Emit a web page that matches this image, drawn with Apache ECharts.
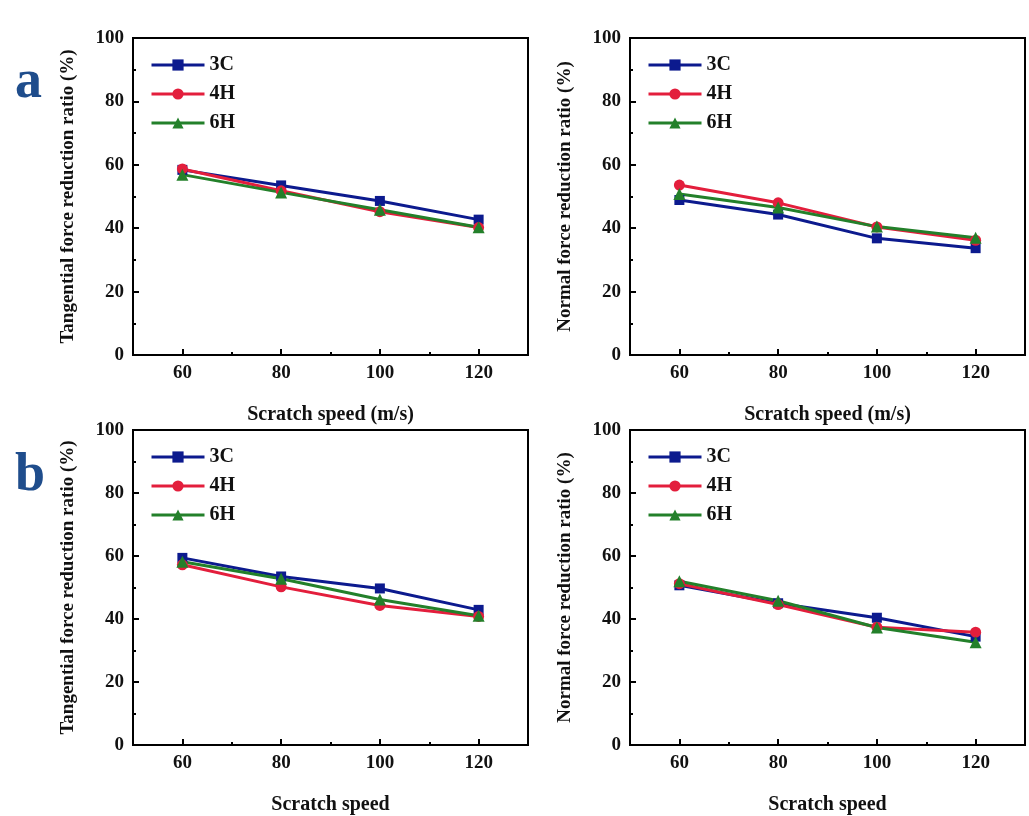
<!DOCTYPE html>
<html>
<head>
<meta charset="utf-8">
<script src="https://cdn.jsdelivr.net/npm/echarts@6/dist/echarts.min.js"></script>
<style>
  html, body { margin: 0; padding: 0; background: #fff; }
  #chart { width: 1029px; height: 816px; }
</style>
</head>
<body>
<div id="chart"></div>
<script>
// Scratch speeds (m/s) on the x axis
const speeds = [60, 80, 100, 120];
const xTickLabels = [60, 80, 100, 120];
const xMinorTicks = [70, 90, 110];
const seriesNames = ['3C', '4H', '6H'];

// (a) force reduction ratio (%)
const aTangential3C = [58.4, 53.5, 48.6, 42.7];
const aTangential4H = [58.7, 51.8, 45.2, 40.2];
const aTangential6H = [56.9, 51.3, 45.8, 40.3];
const aNormal3C = [48.9, 44.3, 36.8, 33.7];
const aNormal4H = [53.6, 48.0, 40.4, 36.2];
const aNormal6H = [50.8, 46.5, 40.5, 37.0];

// (b) force reduction ratio (%)
const bTangential3C = [59.4, 53.5, 49.7, 42.9];
const bTangential4H = [57.2, 50.2, 44.3, 40.8];
const bTangential6H = [58.2, 52.8, 46.2, 41.0];
const bNormal3C = [50.7, 45.0, 40.4, 34.4];
const bNormal4H = [51.2, 44.6, 37.4, 35.8];
const bNormal6H = [52.0, 45.8, 37.3, 32.6];

const FONT = "'Liberation Serif', 'Times New Roman', serif";
const colors = ['#0c1a8e', '#e31e3c', '#23802a'];
const symbols = ['rect', 'circle', 'triangle'];
const symbolSizes = [10, 11, 12];

const panels = [
  { left: 133, top: 38, height: 317, yName: 'Tangential force reduction ratio (%)', xName: 'Scratch speed (m/s)', data: [aTangential3C, aTangential4H, aTangential6H] },
  { left: 630, top: 38, height: 317, yName: 'Normal force reduction ratio (%)', xName: 'Scratch speed (m/s)', data: [aNormal3C, aNormal4H, aNormal6H] },
  { left: 133, top: 430, height: 318, yName: 'Tangential force reduction ratio (%)', xName: 'Scratch speed', data: [bTangential3C, bTangential4H, bTangential6H] },
  { left: 630, top: 430, height: 318, yName: 'Normal force reduction ratio (%)', xName: 'Scratch speed', data: [bNormal3C, bNormal4H, bNormal6H] }
];

const grid = [], xAxis = [], yAxis = [], series = [], legend = [];

panels.forEach((p, i) => {
  grid.push({
    left: p.left, top: p.top, width: 395, height: p.height,
    show: true, borderColor: '#000', borderWidth: 2, backgroundColor: '#fff'
  });
  // main x axis with labelled ticks
  xAxis.push({
    type: 'value', gridIndex: i, min: 50, max: 130,
    name: p.xName, nameLocation: 'middle', nameGap: 50,
    nameTextStyle: { fontFamily: FONT, fontWeight: 'bold', fontSize: 20, color: '#111' },
    axisLine: { show: true, lineStyle: { color: '#000', width: 2 } },
    axisTick: { show: true, inside: true, length: 6, lineStyle: { width: 2, color: '#000' }, customValues: xTickLabels },
    axisLabel: { show: true, margin: 9, fontFamily: FONT, fontWeight: 'bold', fontSize: 19, color: '#111', customValues: xTickLabels },
    splitLine: { show: false }
  });
  // minor x ticks between labelled speeds
  xAxis.push({
    type: 'value', gridIndex: i, min: 50, max: 130, position: 'bottom',
    axisLine: { show: false },
    axisTick: { show: true, inside: true, length: 3, lineStyle: { width: 2, color: '#000' }, customValues: xMinorTicks },
    axisLabel: { show: false, customValues: xMinorTicks },
    splitLine: { show: false }
  });
  yAxis.push({
    type: 'value', gridIndex: i, min: 0, max: 100, interval: 20,
    name: p.yName, nameLocation: 'middle', nameGap: 55, nameRotate: 90,
    nameTextStyle: { fontFamily: FONT, fontWeight: 'bold', fontSize: 19, color: '#111' },
    axisLine: { show: true, lineStyle: { color: '#000', width: 2 } },
    axisTick: { show: true, inside: true, length: 6, lineStyle: { width: 2, color: '#000' } },
    minorTick: { show: true, splitNumber: 2, length: 3, lineStyle: { width: 2, color: '#000' } },
    axisLabel: { margin: 9, fontFamily: FONT, fontWeight: 'bold', fontSize: 19, color: '#111' },
    splitLine: { show: false }
  });
  p.data.forEach((vals, k) => {
    series.push({
      id: 'p' + i + '_' + k, name: seriesNames[k], type: 'line',
      xAxisIndex: i * 2, yAxisIndex: i,
      data: speeds.map((s, j) => [s, vals[j]]),
      symbol: symbols[k], symbolSize: symbolSizes[k],
      showSymbol: true,
      itemStyle: { color: colors[k] },
      lineStyle: { color: colors[k], width: 3 },
      emphasis: { disabled: true },
      animation: false
    });
  });
  legend.push({
    orient: 'vertical', left: p.left + 17, top: p.top + 17, padding: 0,
    itemWidth: 53, itemHeight: 14, itemGap: 9,
    data: seriesNames,
    lineStyle: { width: 3 },
    textStyle: { fontFamily: FONT, fontWeight: 'bold', fontSize: 20, color: '#111' },
    selectedMode: false
  });
});

const chart = echarts.init(document.getElementById('chart'), null, { renderer: 'canvas' });
chart.setOption({
  backgroundColor: '#fff',
  animation: false,
  grid, xAxis, yAxis, series, legend,
  graphic: [
    { type: 'text', left: 15, top: 56, style: { text: 'a', font: "bold 54px 'Liberation Serif', serif", fill: '#1f4d8c' } },
    { type: 'text', left: 15, top: 449, style: { text: 'b', font: "bold 54px 'Liberation Serif', serif", fill: '#1f4d8c' } }
  ]
});
</script>
</body>
</html>
